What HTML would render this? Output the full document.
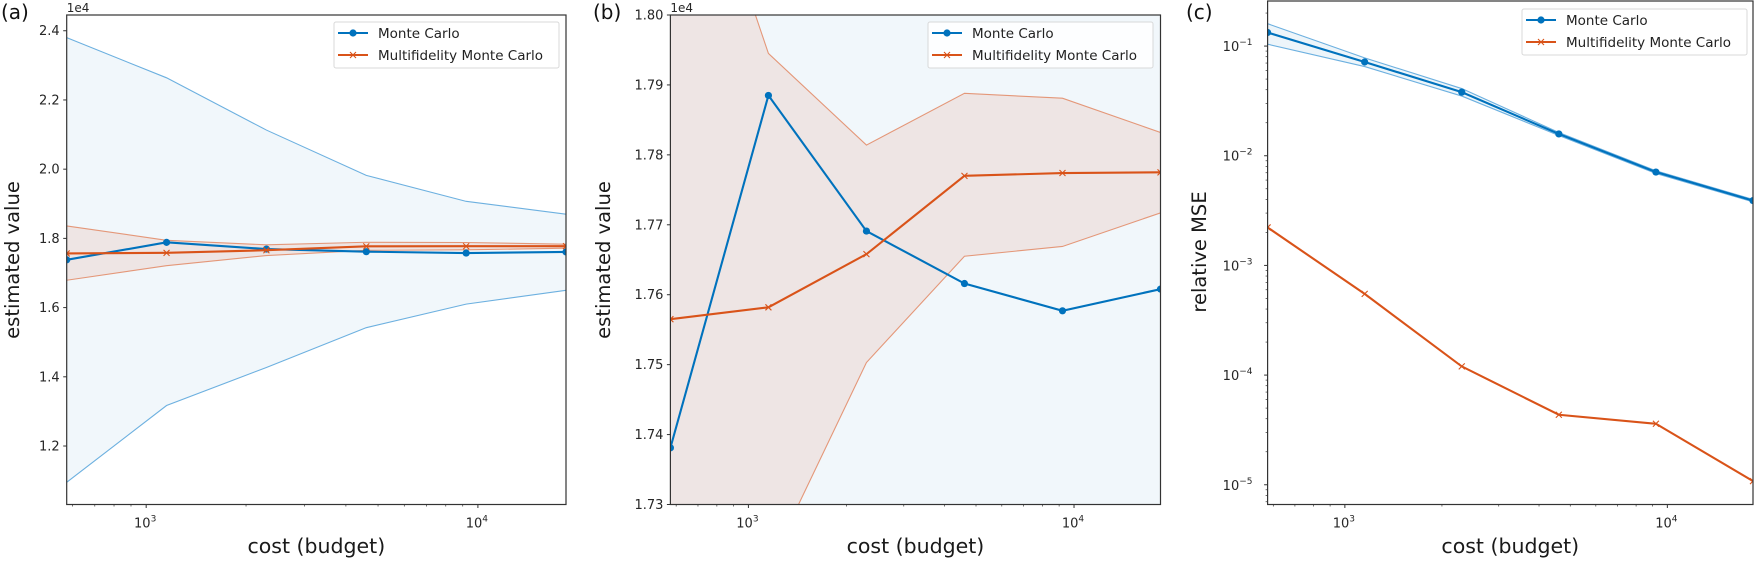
<!DOCTYPE html>
<html><head><meta charset="utf-8">
<style>
html,body{margin:0;padding:0;background:#fff;width:1757px;height:565px;overflow:hidden;}
svg{display:block;font-family:"DejaVu Sans","Liberation Sans",sans-serif;}
</style></head>
<body>
<svg id="fig" width="1757" height="565" viewBox="0 0 1757 565" xmlns="http://www.w3.org/2000/svg"></svg>
<script>
const costs=[576,1152,2304,4608,9216,18432];
const mcMean=[1.7381,1.7885,1.7691,1.7616,1.7577,1.7608];
const mcHi=[2.380,2.264,2.113,1.982,1.907,1.870];
const mcLo=[1.095,1.317,1.427,1.542,1.610,1.650];
const mfMean=[1.7565,1.7582,1.7658,1.7770,1.7774,1.7775];
const mfHi=[1.836,1.7945,1.7814,1.7888,1.7881,1.7832];
const mfLo=[1.679,1.721,1.7503,1.7655,1.7669,1.7717];
const mseMC=[0.133,0.0716,0.038,0.0158,0.0071,0.0039];
const mseMCHi=[0.160,0.078,0.041,0.0163,0.0073,0.0040];
const mseMCLo=[0.104,0.065,0.035,0.0153,0.0069,0.0038];
const mseMF=[0.00222,0.00055,0.00012,0.0000435,0.000036,0.0000108];
const ticksA=[1.2,1.4,1.6,1.8,2.0,2.2,2.4];
const ticksB=[1.73,1.74,1.75,1.76,1.77,1.78,1.79,1.80];
const ticksC=[-5,-4,-3,-2,-1];

const NS="http://www.w3.org/2000/svg";
const fig=document.getElementById('fig');
const BLUE="#0072BD", ORG="#D95319";
function mk(tag,attrs,parent){const e=document.createElementNS(NS,tag);for(const k in attrs)e.setAttribute(k,attrs[k]);(parent||fig).appendChild(e);return e;}

function panel(p){
  const g=mk('g',{});
  
  
  const lx0=Math.log10(costs[0]),lx1=Math.log10(costs[costs.length-1]);
  const X=v=>p.L+(Math.log10(v)-lx0)/(lx1-lx0)*(p.R-p.L);
  const Y=v=>{const t=p.log?Math.log10(v):v;return p.B-(t-p.y0)/(p.y1-p.y0)*(p.B-p.T);};
  const cid='clip-'+p.id;
  const defs=mk('defs',{},g);const cp=mk('clipPath',{id:cid},defs);
  mk('rect',{x:p.L,y:p.T,width:p.R-p.L,height:p.B-p.T},cp);
  const plot=mk('g',{'clip-path':'url(#'+cid+')'},g);
  function band(lo,hi,fill,stroke,name){
    let d='M'+costs.map((c,i)=>X(c)+','+Y(hi[i])).join('L');
    d+='L'+costs.map((c,i)=>X(c)+','+Y(lo[i])).reverse().join('L')+'Z';
    const f=mk('path',{d:d,fill:fill,stroke:'none'},plot);
    
    
    [hi,lo].forEach((arr,j)=>{
      const l=mk('path',{d:'M'+costs.map((c,i)=>X(c)+','+Y(arr[i])).join('L'),fill:'none',stroke:stroke,'stroke-width':1.1,'stroke-opacity':0.75},plot);
      
      
    });
  }
  function line(arr,col,marker,name){
    const l=mk('path',{d:'M'+costs.map((c,i)=>X(c)+','+Y(arr[i])).join('L'),fill:'none',stroke:col,'stroke-width':2.1},plot);
    
    
    costs.forEach((c,i)=>{
      const x=X(c),y=Y(arr[i]);let m;
      if(marker==='o'){m=mk('circle',{cx:x,cy:y,r:3.6,fill:col},plot);}
      else{m=mk('path',{d:`M${x-3},${y-3}L${x+3},${y+3}M${x-3},${y+3}L${x+3},${y-3}`,stroke:col,'stroke-width':1.1,fill:'none'},plot);}
      
      
    });
  }
  if(p.id==='c'){
    band(mseMCLo,mseMCHi,'rgba(0,114,189,0.07)','#3d97d6','mc');
    line(mseMC,BLUE,'o','mc');
    line(mseMF,ORG,'x','mfmc');
  }else{
    band(mcLo,mcHi,'rgba(0,114,189,0.055)','#3d97d6','mc');
    band(mfLo,mfHi,'rgba(217,83,25,0.1)','#e07a50','mfmc');
    line(mcMean,BLUE,'o','mc');
    line(mfMean,ORG,'x','mfmc');
  }
  const fr=mk('rect',{x:p.L,y:p.T,width:p.R-p.L,height:p.B-p.T,fill:'none',stroke:'#333','stroke-width':1.2},g);
  
  
  for(let dec=2;dec<=4;dec++){for(let k=1;k<10;k++){const v=k*Math.pow(10,dec);
    if(v<costs[0]||v>costs[costs.length-1])continue;const x=X(v);
    mk('line',{x1:x,x2:x,y1:p.B,y2:p.B+(k===1?3.5:2),stroke:'#333','stroke-width':k===1?1:0.7},g);
    if(k===1){const t=mk('text',{x:x-1,y:p.B+23,'font-size':13,'text-anchor':'middle',fill:'#262626'},g);
      
      
      t.textContent='10';const s=mk('tspan',{dy:-6,'font-size':9},t);s.textContent=String(dec);}
  }}
  if(p.id==='c'){
    for(let e=-6;e<=0;e++){for(let k=1;k<10;k++){const v=k*Math.pow(10,e);const lv=Math.log10(v);
      if(lv<p.y0||lv>p.y1)continue;const y=Y(v);
      mk('line',{x1:p.L,x2:p.L-(k===1?3.5:2),y1:y,y2:y,stroke:'#333','stroke-width':k===1?1:0.7},g);}}
    ticksC.forEach(e=>{const y=Y(Math.pow(10,e));
      const t=mk('text',{x:p.L-30,y:y+5,'font-size':13,'text-anchor':'middle',fill:'#262626'},g);
      
      
      t.textContent='10';const s=mk('tspan',{dy:-6,'font-size':9},t);s.textContent='\u2212'+(-e);});
  }else{
    p.ticks.forEach(v=>{const y=Y(v);
      mk('line',{x1:p.L,x2:p.L-3.5,y1:y,y2:y,stroke:'#333','stroke-width':1},g);
      const t=mk('text',{x:p.L-7,y:y+4.5,'font-size':13,'text-anchor':'end',fill:'#262626'},g);
      
      
      t.textContent=v.toFixed(p.dec);});
    const o=mk('text',{x:p.L,y:12,'font-size':12,fill:'#262626'},g);
    
    
    o.textContent='1e4';
  }
  const xl=mk('text',{x:(p.L+p.R)/2,y:553,'font-size':20.5,'text-anchor':'middle',fill:'#1a1a1a'},g);
  
  
  xl.textContent='cost (budget)';
  const yl=mk('text',{x:0,y:0,'font-size':19.5,'text-anchor':'middle',fill:'#1a1a1a',transform:`translate(${p.ylx},${p.yly}) rotate(-90)`},g);
  
  
  yl.textContent=p.ylabel;
  const pl=mk('text',{x:p.plx,y:p.ply,'font-size':20,fill:'#111'},g);
  
  
  pl.textContent='('+p.id+')';
  const lg=mk('g',{},g);
  
  
  mk('rect',{x:p.lgx,y:p.lgy,width:225,height:46,rx:2,fill:'rgba(255,255,255,0.85)',stroke:'#d8d8d8','stroke-width':1},lg);
  [['Monte Carlo',BLUE,'o'],['Multifidelity Monte Carlo',ORG,'x']].forEach((r,i)=>{
    const y=p.lgy+11+i*22,x=p.lgx+4;
    const e=mk('g',{},lg);
    
    
    mk('line',{x1:x,x2:x+30,y1:y,y2:y,stroke:r[1],'stroke-width':2},e);
    if(r[2]==='o')mk('circle',{cx:x+15,cy:y,r:3.6,fill:r[1]},e);
    else mk('path',{d:`M${x+12},${y-3}L${x+18},${y+3}M${x+12},${y+3}L${x+18},${y-3}`,stroke:r[1],'stroke-width':1.1},e);
    const t=mk('text',{x:x+40,y:y+5,'font-size':13.5,fill:'#222'},e);t.textContent=r[0];
  });
}
panel({id:'a',name:'panel-a',L:66.7,R:566,T:15,B:504.5,y0:1.031,y1:2.4455,ticks:ticksA,dec:1,ylabel:'estimated value',ylx:19,yly:260,plx:1,ply:19,lgx:334,lgy:22});
panel({id:'b',name:'panel-b',L:670.4,R:1160.5,T:15,B:504.5,y0:1.73,y1:1.80,ticks:ticksB,dec:2,ylabel:'estimated value',ylx:610,yly:260,plx:593,ply:19,lgx:928,lgy:22});
panel({id:'c',name:'panel-c',log:true,L:1267.6,R:1753,T:1,B:504.5,y0:-5.18,y1:-0.589,ylabel:'relative MSE',ylx:1206,yly:252,plx:1186,ply:19,lgx:1522,lgy:9});
</script>
</body></html>
